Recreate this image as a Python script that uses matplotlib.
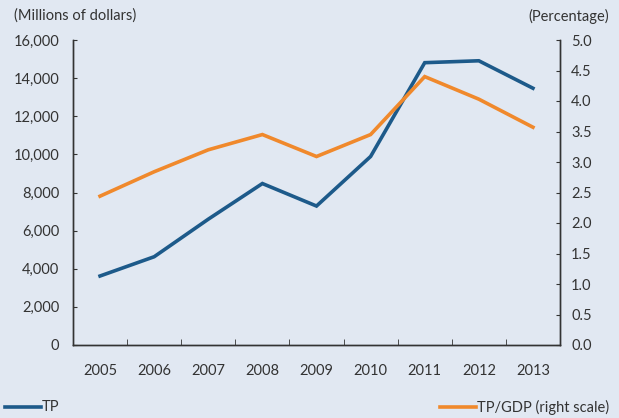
import matplotlib.pyplot as plt
import numpy as np

years = ["2005", "2006", "2007", "2008", "2009", "2010", "2011", "2012", "2013"]
tp = [3620, 4630, 6600, 8470, 7290, 9890, 14810, 14910, 13470]
tp_gdp = [2.44, 2.84, 3.20, 3.45, 3.09, 3.45, 4.40, 4.03, 3.57]

BG = "#e1e8f2"
BLUE = "#1d5a8a"
ORANGE = "#f0892c"
TXT = "#333333"

plt.rcParams["font.family"] = ["Lato", "DejaVu Sans"]
plt.rcParams["font.size"] = 10.5

fig = plt.figure(figsize=(6.19, 4.18), dpi=100, facecolor=BG)
ax = fig.add_axes([73 / 619, 73 / 418, 487 / 619, 305 / 418], facecolor=BG)
ax2 = ax.twinx()

x = np.arange(len(years))
ax.plot(x, tp, color=BLUE, lw=2.6, solid_joinstyle="miter")
ax2.plot(x, tp_gdp, color=ORANGE, lw=2.6, solid_joinstyle="miter")

ax.set_xlim(-0.5, len(years) - 0.5)
ax.set_ylim(0, 16000)
ax2.set_ylim(0, 5.0)

ax.set_yticks(np.arange(0, 16001, 2000))
ax.set_yticklabels([f"{v:,}" for v in range(0, 16001, 2000)])
ax2.set_yticks(np.arange(0, 5.01, 0.5))
ax2.set_yticklabels([f"{v:.1f}" for v in np.arange(0, 5.01, 0.5)])

ax.set_xticks(x)
ax.set_xticklabels(years)
ax.set_xticks(np.arange(-0.5, len(years), 1), minor=True)
ax.tick_params(axis="x", which="major", length=0, pad=14, colors=TXT)
ax.tick_params(axis="x", which="minor", direction="in", length=4, color=TXT)
ax.tick_params(axis="y", direction="in", length=3, pad=10, colors=TXT)
ax2.tick_params(axis="y", direction="in", length=3, pad=8, colors=TXT)

for a in (ax, ax2):
    a.spines["top"].set_visible(False)
    for s in ("left", "right", "bottom"):
        a.spines[s].set_color(TXT)
        a.spines[s].set_linewidth(1.0)

fig.text(14 / 619, 1 - 16 / 418, "(Millions of dollars)", color=TXT, va="center", ha="left")
fig.text(609 / 619, 1 - 16 / 418, "(Percentage)", color=TXT, va="center", ha="right")

# legend drawn as figure lines at the bottom
fig.add_artist(plt.Line2D([5 / 619, 41 / 619], [1 - 407 / 418] * 2, color=BLUE, lw=2.6))
fig.text(42 / 619, 1 - 407 / 418, "TP", color=TXT, va="center", ha="left")
fig.add_artist(plt.Line2D([440 / 619, 476 / 619], [1 - 407 / 418] * 2, color=ORANGE, lw=2.6))
fig.text(477 / 619, 1 - 407 / 418, "TP/GDP (right scale)", color=TXT, va="center", ha="left")

fig.savefig("out.png", dpi=100, facecolor=BG)
